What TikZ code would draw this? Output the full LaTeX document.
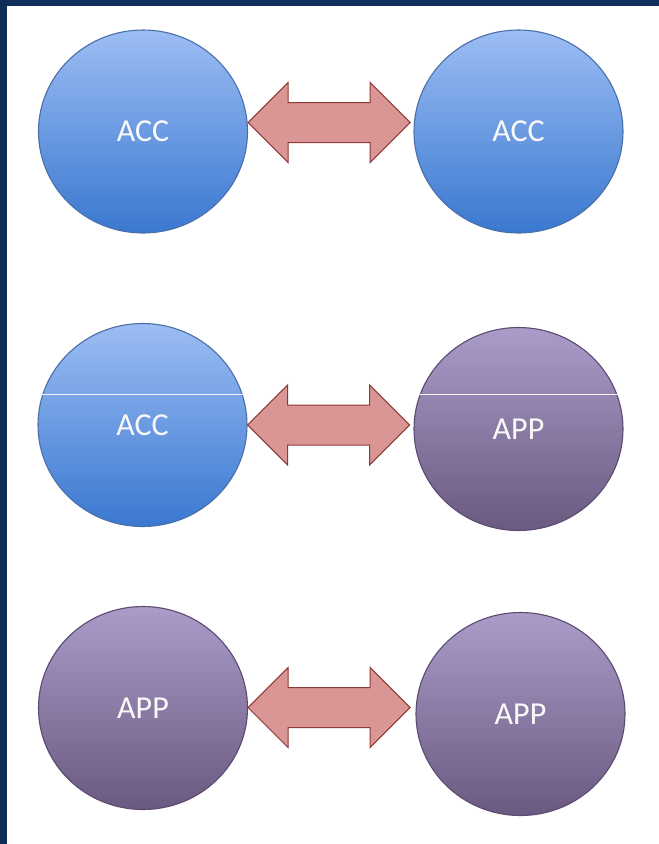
\documentclass[tikz,border=0pt]{standalone}
\usepackage{fontspec}
\setmainfont{Carlito}
\usepackage{xcolor}
\usetikzlibrary{shapes.geometric,calc}
\definecolor{frame}{HTML}{0F2E5A}
\definecolor{acctop}{HTML}{9CBDF4}
\definecolor{accbot}{HTML}{3A78D0}
\definecolor{accline}{HTML}{4A6FA8}
\definecolor{apptop}{HTML}{AA9BC9}
\definecolor{appbot}{HTML}{6A5A80}
\definecolor{appline}{HTML}{5B4B72}
\definecolor{swapfill}{HTML}{D99694}
\definecolor{swapline}{HTML}{8E3A37}
\tikzset{
  disc/.style  ={ellipse,minimum width=209pt,minimum height=203pt,inner sep=0pt,
                 line width=1.1pt,text=white!95!gray,font=\fontsize{32}{36}\selectfont},
  acc/.style   ={disc,draw=accline,top color=acctop,bottom color=accbot},
  app/.style   ={disc,draw=appline,top color=apptop,bottom color=appbot},
  swap/.style  ={draw=swapline,fill=swapfill,line width=1pt,line join=miter},
  split/.style ={draw=white!92!gray,line width=1pt},
}

\begin{document}
\begin{tikzpicture}[x=1pt,y=-1pt]
  \useasboundingbox (0,0) rectangle (659,844);
  \fill[frame] (0,0) rectangle (659,844);
  \fill[white] (7,6) rectangle (659,844);
  % row 1: both sides accelerated
  \node[acc] (a1) at (143,131.5) {ACC};
  \node[acc] (b1) at (518.5,131.5) {ACC};
  \draw[swap] ([yshift=9pt]a1.east) -- ++(40,-40) -- ++(0,20) -- ++(82,0) -- ++(0,-20)
    -- ++(40,40) -- ++(-40,40) -- ++(0,-20) -- ++(-82,0) -- ++(0,20) -- cycle;
  % row 2: mixed
  \node[acc] (a2) at (142.5,425) {ACC};
  \node[app] (b2) at (518.5,429) {APP};
  \draw[split] (a2.163.5) -- (a2.16.5 |- a2.163.5);
  \draw[split] (b2.161) -- (b2.19 |- b2.161);
  \draw[swap] (a2.east) -- ++(40,-40) -- ++(0,20) -- ++(82,0) -- ++(0,-20)
    -- ++(40,40) -- ++(-40,40) -- ++(0,-20) -- ++(-82,0) -- ++(0,20) -- cycle;
  % row 3: both sides application
  \node[app] (a3) at (143,708) {APP};
  \node[app] (b3) at (520.5,714) {APP};
  \draw[swap] ([yshift=0.5pt]a3.east) -- ++(40,-40) -- ++(0,20) -- ++(82,0) -- ++(0,-20)
    -- ++(40,40) -- ++(-40,40) -- ++(0,-20) -- ++(-82,0) -- ++(0,20) -- cycle;
\end{tikzpicture}
\end{document}
